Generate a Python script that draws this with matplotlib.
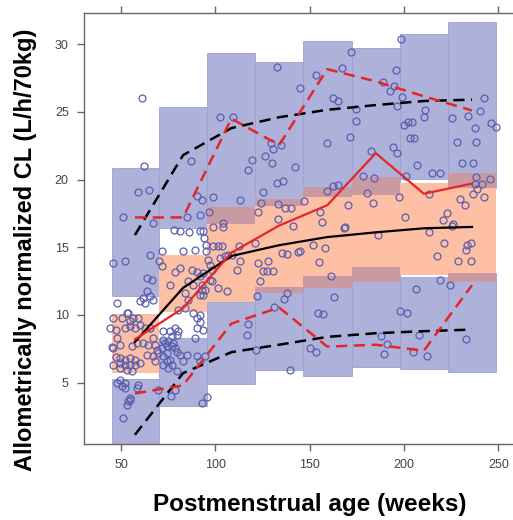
import numpy as np
import matplotlib
matplotlib.use("Agg")
import matplotlib.pyplot as plt

plt.rcParams['font.family'] = ['Liberation Sans', 'DejaVu Sans']

# bin edges (postmenstrual age, weeks) and bin mid-points
bin_edges = [45.0, 70.0, 95.7, 121.2, 146.3, 172.3, 197.9, 223.2, 248.8]
bin_mid = [57.4, 82.9, 108.5, 133.8, 159.3, 185.0, 210.5, 236.0]

# prediction intervals per bin
pi_hi_lo = [11.4, 16.4, 16.72, 18.07, 18.69, 18.86, 20.02, 19.36]
pi_hi_hi = [20.83, 25.39, 29.33, 28.66, 30.26, 29.7, 30.73, 31.66]
pi_med_lo = [5.68, 10.25, 10.95, 11.63, 11.99, 12.44, 12.98, 12.44]
pi_med_hi = [10.07, 14.45, 18.0, 18.57, 19.48, 20.22, 19.77, 20.51]
pi_lo_lo = [0.0, 3.27, 4.93, 5.96, 5.47, 6.17, 6.01, 5.79]
pi_lo_hi = [5.26, 8.3, 10.95, 12.05, 12.86, 13.52, 12.78, 13.1]

# percentile lines
obs_p50 = [8.2, 10.5, 14.6, 16.6, 18.1, 21.95, 18.95, 19.7]
obs_p95 = [17.2, 17.2, 24.5, 22.55, 28.15, 27.25, 26.15, 25.1]
obs_p05 = [4.2, 4.8, 9.36, 10.55, 7.66, 7.8, 7.36, 12.2]
pred_p50 = [8.0, 12.0, 14.35, 15.15, 15.75, 16.1, 16.4, 16.5]
pred_p95 = [15.9, 21.8, 23.8, 24.6, 25.15, 25.5, 25.8, 25.9]
pred_p05 = [1.15, 5.7, 7.25, 7.8, 8.38, 8.65, 8.8, 8.92]

# observations
obs_age = [
    61.0, 62.4, 58.8, 65.0, 50.9, 67.1, 45.9, 52.1, 65.4, 63.6, 66.3, 63.6, 61.8, 65.4, 60.1, 62.7, 67.1,
    47.7, 53.9, 56.5, 59.2, 50.4, 53.0, 45.9, 54.8, 57.4, 44.2, 52.1, 54.8, 47.2, 60.1, 62.7, 65.4,
    67.1, 68.0, 68.9, 47.7, 49.5, 45.9, 45.1, 55.7, 58.3, 61.8, 64.5, 63.6, 67.1, 68.0, 69.8,
    47.2, 49.5, 45.9, 52.1, 54.8, 57.4, 49.5, 52.1, 54.8, 57.4, 60.1, 49.5, 53.0, 55.7,
    49.5, 52.1, 50.4, 52.1, 47.7, 59.2, 58.3, 69.8, 54.8, 53.9, 50.9, 53.0, 54.8,
    86.9, 85.1, 91.9, 90.1, 92.8, 78.1, 81.3, 85.9, 91.9,
    71.6, 83.0, 89.2, 70.3, 71.6, 78.6, 81.3, 87.5, 90.1, 76.0, 85.7, 88.3, 83.9, 85.7, 91.9, 92.8,
    80.4, 83.9, 88.3, 90.1, 91.9,
    72.4, 76.0, 78.6, 80.4, 76.9, 79.5, 72.4, 73.3, 75.1, 77.7, 76.9, 74.2, 78.6, 74.2, 71.6, 79.5,
    72.4, 74.2, 76.0, 72.4, 76.9, 81.3, 84.8, 83.0, 90.1, 91.9, 75.1, 79.5, 94.5,
    76.3, 78.6, 92.8, 95.4, 90.1, 91.9, 89.2, 93.6,
    93.6, 94.0, 95.1, 95.1, 93.6, 91.9, 92.8, 94.5, 93.6,
    102.5, 109.2, 119.3, 117.5, 98.9, 113.1, 96.8, 98.9, 104.2, 104.2,
    96.3, 97.2, 98.1, 97.2, 98.1, 98.9, 101.5, 103.4, 102.5, 105.2, 106.9, 108.7, 112.7, 113.1, 111.6,
    101.5, 106.0, 117.5, 116.9, 121.0,
    132.9, 144.9, 129.3, 134.8, 130.4, 126.3, 129.9, 142.2, 132.9, 136.0, 125.1, 124.2, 122.8, 133.4,
    136.9, 140.0, 133.1, 141.3,
    122.8, 128.1, 125.4, 127.2, 130.7, 123.7, 135.2, 137.8, 144.0, 121.9, 137.8, 136.6, 131.0, 121.6,
    139.6, 144.9,
    171.8, 167.0, 153.2, 162.2, 165.2, 159.4, 171.4, 162.5, 165.2, 159.4, 147.0, 170.5, 155.5, 156.4,
    168.7, 151.9, 158.1, 155.1, 161.2, 168.2, 163.1, 154.3, 157.2, 150.2, 153.2,
    195.8, 188.7, 194.9, 192.6, 196.4, 174.6, 174.6, 182.5, 194.3, 196.4, 178.4, 184.1, 180.6, 183.4,
    197.5, 186.4, 197.9, 187.9, 191.2, 189.5,
    198.3, 198.8, 200.0, 202.3, 204.1, 203.2, 205.3, 211.1, 210.6, 206.7, 215.0, 219.1, 201.1, 213.4,
    200.5, 223.0, 220.5, 213.4, 221.4, 217.3, 219.1, 206.3, 201.4, 207.8, 204.9, 212.4,
    242.4, 225.3, 234.1, 240.3, 237.6, 246.0, 248.8, 228.3, 238.2, 230.6, 236.4, 238.2, 241.2, 237.7,
    245.6, 242.4, 238.5, 236.7, 229.7, 232.3, 226.2, 225.3, 233.2, 235.3, 232.9, 228.5, 235.3, 224.4,
    232.7,
]
obs_cl = [
    26.0, 21.0, 19.1, 19.2, 17.2, 16.8, 13.84, 13.96, 14.45, 12.73, 12.6, 11.75, 11.26, 11.38, 11.0, 10.89, 11.13,
    10.86, 10.12, 9.76, 9.76, 9.76, 10.15, 9.78, 9.53, 9.04, 9.04, 9.04, 9.17, 8.89, 9.28, 9.04, 9.04,
    8.3, 7.81, 7.44, 8.3, 7.81, 7.56, 7.66, 7.69, 7.93, 7.93, 7.81, 7.07, 6.95, 6.58, 7.19,
    6.92, 6.8, 6.31, 6.7, 6.82, 6.7, 6.45, 6.33, 6.33, 6.33, 6.45, 6.06, 5.96, 5.84,
    5.22, 4.98, 4.73, 4.61, 4.98, 4.85, 4.61, 4.48, 3.87, 3.63, 2.42, 3.35, 3.72,
    21.4, 17.2, 17.4, 18.8, 18.5, 16.3, 16.2, 16.1, 16.2,
    14.7, 14.7, 14.8, 13.97, 13.6, 13.2, 13.5, 13.35, 13.2, 12.24, 12.5, 12.24, 11.63, 11.13, 11.5, 11.87,
    10.39, 10.52, 10.15, 9.78, 10.02,
    8.8, 8.8, 9.04, 8.8, 8.43, 8.55, 8.18, 7.93, 8.06, 7.93, 7.69, 7.69, 7.56, 7.19, 7.56, 7.27,
    6.95, 6.58, 6.7, 6.33, 6.33, 7.07, 7.07, 6.58, 6.95, 6.58, 6.08, 5.84, 6.95,
    4.04, 4.46, 3.48, 3.97, 9.02, 9.5, 8.28, 8.91,
    16.2, 15.69, 15.19, 14.7, 13.1, 12.86, 12.24, 11.87, 11.5,
    24.6, 24.65, 21.45, 20.7, 18.74, 18.5, 17.6, 16.48, 16.77, 16.52,
    14.08, 13.72, 13.35, 12.61, 12.49, 15.07, 15.07, 15.07, 14.21, 14.33, 14.45, 14.45, 15.07, 13.96, 13.35,
    11.99, 11.75, 9.34, 8.55, 15.32,
    28.34, 26.74, 22.68, 22.55, 22.26, 21.77, 21.25, 20.95, 19.73, 19.9, 19.06, 18.25, 17.63, 18.2,
    17.88, 17.88, 17.07, 16.57,
    13.84, 13.96, 13.23, 13.23, 13.27, 12.53, 14.58, 14.5, 14.65, 11.38, 11.63, 11.18, 10.59, 7.44,
    5.96, 14.7,
    29.45, 28.22, 27.73, 26.0, 25.83, 22.73, 23.17, 19.55, 19.6, 19.18, 18.44, 18.12, 17.63, 16.89,
    16.52, 15.19, 14.95, 13.91, 12.86, 16.43, 11.31, 10.15, 10.07, 7.56, 7.27,
    28.1, 27.23, 26.94, 26.57, 25.44, 25.19, 24.35, 22.14, 22.39, 21.99, 20.27, 20.1, 18.99, 18.3,
    18.74, 15.93, 10.32, 8.43, 7.88, 7.14,
    30.36, 26.12, 24.03, 24.28, 24.28, 23.05, 23.05, 25.14, 24.65, 21.08, 20.46, 20.46, 20.29, 18.94,
    17.21, 17.51, 17.02, 16.11, 15.32, 14.33, 12.56, 11.94, 10.15, 8.5, 7.27, 6.99,
    26.05, 24.57, 24.7, 25.07, 23.83, 24.16, 23.91, 22.75, 22.75, 21.25, 21.25, 20.22, 19.65, 19.65,
    20.02, 18.69, 19.28, 18.94, 18.57, 18.12, 16.72, 16.6, 15.19, 15.32, 14.82, 14.01, 13.96, 12.24,
    8.25,
]

blue = '#AEB2DA'
orange = '#FDC0A4'
mauve = '#C99AA1'
edge = '#9DA2CE'

fig = plt.figure(figsize=(5.13, 5.20), dpi=100, facecolor='white')
ax = fig.add_axes([0.1637, 0.1462, 0.852, 0.8288])

left = np.array(bin_edges[:-1])
width = np.diff(bin_edges)

def band(lo, hi, color, ec='none'):
    lo = np.array(lo)
    hi = np.array(hi)
    ax.bar(left, hi - lo, width=width, bottom=lo, align='edge', color=color,
           edgecolor=ec, linewidth=0.6, zorder=1)

band(pi_hi_lo, pi_hi_hi, blue, edge)
band(pi_lo_lo, pi_lo_hi, blue, edge)
band(pi_med_lo, pi_med_hi, orange)

# overlap of the median band with the outer bands
for lo_a, hi_a in [(pi_hi_lo, pi_hi_hi), (pi_lo_lo, pi_lo_hi)]:
    o_lo = np.maximum(lo_a, pi_med_lo)
    o_hi = np.minimum(hi_a, pi_med_hi)
    h = np.where(o_hi > o_lo, o_hi - o_lo, 0)
    ax.bar(left, h, width=width, bottom=o_lo, align='edge', color=mauve,
           edgecolor='none', zorder=1.5)

ax.plot(obs_age, obs_cl, 'o', mfc='none', mec='#5A5EAE', ms=5, mew=0.9, zorder=3)

dash = (0, (4.5, 2.6))
ax.plot(bin_mid, pred_p50, color='black', lw=1.6, zorder=4)
ax.plot(bin_mid, pred_p95, color='black', lw=1.8, ls=dash, zorder=4)
ax.plot(bin_mid, pred_p05, color='black', lw=1.8, ls=dash, zorder=4)
ax.plot(bin_mid, obs_p50, color='#E52629', lw=1.6, zorder=5)
ax.plot(bin_mid, obs_p95, color='#E52629', lw=1.8, ls=dash, zorder=5)
ax.plot(bin_mid, obs_p05, color='#E52629', lw=1.8, ls=dash, zorder=5)

ax.set_xlim(30.4, 262.0)
ax.set_ylim(0.47, 32.3)
ax.set_xticks([50, 100, 150, 200, 250])
ax.set_yticks([5, 10, 15, 20, 25, 30])
ax.tick_params(axis='both', direction='out', length=5, width=1, color='#666666',
               labelsize=9, labelcolor='#444444', top=True, right=False, pad=6)
for s in ax.spines.values():
    s.set_color('#666666')
    s.set_linewidth(1.0)
ax.spines['right'].set_visible(False)

fig.text(0.05, 1 - 250 / 520, 'Allometrically normalized CL (L/h/70kg)', rotation=90,
         ha='center', va='center', fontsize=17, fontweight='bold')
fig.text(310 / 513, 1 - 505 / 520, 'Postmenstrual age (weeks)',
         ha='center', va='center', fontsize=17.5, fontweight='bold')

fig.savefig('out.png', dpi=100, facecolor='white')
